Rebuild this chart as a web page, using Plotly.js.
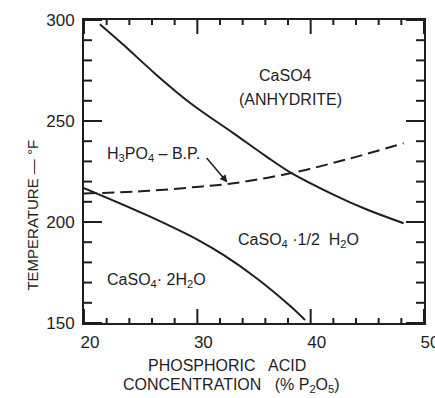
<!DOCTYPE html>
<html>
<head>
<meta charset="utf-8">
<script src="https://cdn.plot.ly/plotly-3.0.1.min.js"></script>
<style>html,body{margin:0;padding:0;background:#fff;}#chart{width:435px;height:398px;}</style>
</head>
<body>
<div id="chart"></div>
<script>
// Anhydrite / hemihydrate boundary
var anhyX = [21.4, 23.5, 26.4, 29.4, 33.2, 36.1, 38.2, 42.0, 44.9, 48.2];
var anhyT = [297.9, 287.6, 272.8, 258.8, 243.9, 232.4, 224.6, 213.6, 206.3, 199.4];
// H3PO4 boiling point (dashed)
var bpX = [20.0, 25.9, 30.2, 32.7, 38.2, 43.5, 48.2];
var bpT = [214.1, 215.5, 217.5, 218.8, 224.1, 231.5, 239.0];
// Dihydrate / hemihydrate boundary
var diX = [20.0, 25.5, 30.2, 32.3, 35.2, 38.2, 39.5];
var diT = [216.8, 203.5, 190.7, 183.7, 172.3, 158.4, 151.5];

// Tick values
var xMajorTicks = [20, 30, 40, 50];
var xMinorTicks = [22, 24, 26, 28, 32, 34, 36, 38, 42, 44, 46, 48];
var yMajorTicks = [150, 200, 250, 300];
var yMinorTicks = [160, 170, 180, 190, 210, 220, 230, 240, 260, 270, 280, 290];

var ink = '#1e1e1e';
var FONT = 'Liberation Sans, Arial, sans-serif';

var traces = [
  {x: anhyX, y: anhyT, mode: 'lines', line: {color: ink, width: 2, shape: 'spline', smoothing: 1}, hoverinfo: 'skip'},
  {x: bpX, y: bpT, mode: 'lines', line: {color: ink, width: 2, dash: '12px,6px', shape: 'spline', smoothing: 1}, hoverinfo: 'skip'},
  {x: diX, y: diT, mode: 'lines', line: {color: ink, width: 2, shape: 'spline', smoothing: 1}, hoverinfo: 'skip'}
];

// Inward tick marks on all four sides, placed through the x / y scales
var shapes = [];
function xTick(v, len) {
  shapes.push({type: 'line', layer: 'above', xref: 'x', yref: 'paper', ysizemode: 'pixel', yanchor: 0,
               x0: v, x1: v, y0: 0, y1: len, line: {color: ink, width: 2}});
  shapes.push({type: 'line', layer: 'above', xref: 'x', yref: 'paper', ysizemode: 'pixel', yanchor: 1,
               x0: v, x1: v, y0: 0, y1: -len, line: {color: ink, width: 2}});
}
function yTick(v, len) {
  shapes.push({type: 'line', layer: 'above', xref: 'paper', yref: 'y', xsizemode: 'pixel', xanchor: 0,
               x0: 0, x1: len, y0: v, y1: v, line: {color: ink, width: 2}});
  shapes.push({type: 'line', layer: 'above', xref: 'paper', yref: 'y', xsizemode: 'pixel', xanchor: 1,
               x0: 0, x1: -len, y0: v, y1: v, line: {color: ink, width: 2}});
}
xMajorTicks.forEach(function (v) { xTick(v, 14); });
xMinorTicks.forEach(function (v) { xTick(v, 5); });
yMajorTicks.forEach(function (v) { yTick(v, 18); });
yMinorTicks.forEach(function (v) { yTick(v, 8); });

var layout = {
  width: 435, height: 398,
  margin: {l: 84, r: 11, t: 20, b: 75},
  showlegend: false,
  paper_bgcolor: '#fff', plot_bgcolor: '#fff',
  font: {family: FONT, color: ink, size: 16},
  xaxis: {
    range: [20, 50], tickmode: 'array', tickvals: xMajorTicks, ticktext: xMajorTicks.map(String),
    ticks: '', showline: true, linewidth: 2, linecolor: ink, mirror: true,
    showgrid: false, zeroline: false,
    tickfont: {size: 17, family: FONT, color: ink},
    ticklabelshift: 6, ticklabelstandoff: 3, ticklabeloverflow: 'allow'
  },
  yaxis: {
    range: [150, 300], tickmode: 'array', tickvals: yMajorTicks, ticktext: yMajorTicks.map(String),
    ticks: '', showline: true, linewidth: 2, linecolor: ink, mirror: true,
    showgrid: false, zeroline: false,
    tickfont: {size: 17, family: FONT, color: ink}, ticklabelstandoff: 4
  },
  shapes: shapes,
  annotations: [
    {text: 'CaSO4', x: 37.8, y: 272.3, xref: 'x', yref: 'y', showarrow: false, font: {size: 16}},
    {text: '(ANHYDRITE)', x: 38.2, y: 260.4, xref: 'x', yref: 'y', showarrow: false, font: {size: 16}},
    {text: 'H<sub>3</sub>PO<sub>4</sub> – B.P.', x: 26.1, y: 233.2, xref: 'x', yref: 'y', showarrow: false, font: {size: 16}},
    {text: '', x: 32.65, y: 219.6, xref: 'x', yref: 'y', showarrow: true, ax: -22, ay: -26,
     arrowhead: 2, arrowsize: 1, arrowwidth: 1.5, arrowcolor: ink},
    {text: 'CaSO<sub>4</sub> ·1/2  H<sub>2</sub>O', x: 38.9, y: 190.6, xref: 'x', yref: 'y', showarrow: false, font: {size: 16}},
    {text: 'CaSO<sub>4</sub>· 2H<sub>2</sub>O', x: 26.4, y: 170.8, xref: 'x', yref: 'y', showarrow: false, font: {size: 16}},
    {text: 'TEMPERATURE — °F', x: -0.182, y: 203.5, xref: 'paper', yref: 'y', textangle: -90, showarrow: false, font: {size: 15}},
    {text: 'PHOSPHORIC   ACID', x: (227 - 84) / 340, y: -(365 - 323) / 303, xref: 'paper', yref: 'paper',
     xanchor: 'center', yanchor: 'middle', showarrow: false, font: {size: 16}},
    {text: 'CONCENTRATION   (% P<sub>2</sub>O<sub>5</sub>)', x: (231 - 84) / 340, y: -(385 - 323) / 303, xref: 'paper', yref: 'paper',
     xanchor: 'center', yanchor: 'middle', showarrow: false, font: {size: 16}}
  ]
};

Plotly.newPlot('chart', traces, layout, {displayModeBar: false});
</script>
</body>
</html>
